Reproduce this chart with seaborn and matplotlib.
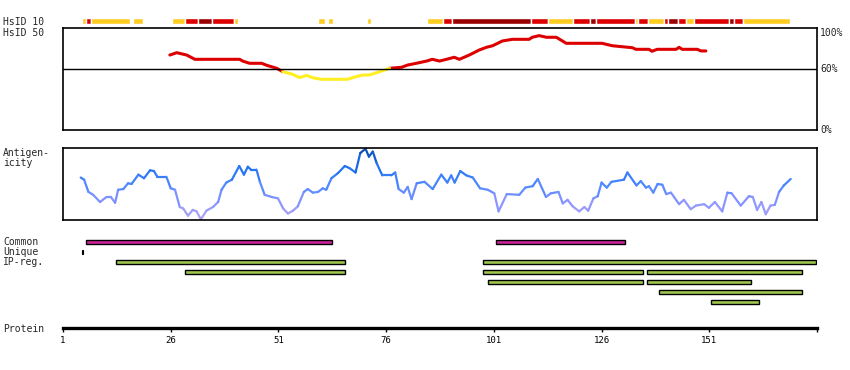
import numpy as np
import pandas as pd
import matplotlib
matplotlib.use("Agg")
import matplotlib.pyplot as plt
import seaborn as sns
from matplotlib.collections import LineCollection
from matplotlib.colors import LinearSegmentedColormap

sns.set_style("white")
plt.rcParams["font.family"] = ["DejaVu Sans Mono"]
plt.rcParams["font.size"] = 7

## protein length (residues)
protein_len = 176

## HsID 10 track: residue spans and identity level
hs10_start = [5.4, 6.3, 7.5, 17.2, 26.3, 29.3, 32.3, 35.5, 40.6, 60.3, 62.4,
              71.5, 85.4, 89.3, 91.4, 109.7, 113.6, 119.4, 123.4, 124.8, 133.8,
              134.5, 136.8, 140.5, 141.5, 143.8, 145.6, 147.5, 155.6, 156.7, 158.8]
hs10_end = [6.3, 7.5, 16.5, 19.5, 29.3, 32.3, 35.5, 40.6, 41.6, 61.7, 63.6,
            72.6, 89.3, 91.4, 109.7, 113.6, 119.4, 123.4, 124.8, 133.8, 134.5,
            136.8, 140.5, 141.5, 143.8, 145.6, 147.5, 155.6, 156.7, 158.8, 169.7]
hs10_level = ["low", "mid", "low", "low", "low", "mid", "high", "mid", "low", "low", "low",
              "low", "low", "mid", "high", "mid", "low", "mid", "high", "mid", "low",
              "mid", "low", "mid", "high", "mid", "low", "mid", "high", "mid", "low"]

## HsID 50 curve (percent identity)
hs50_pos = [25.8, 27.4, 29.7, 31.6, 42.0, 42.7, 44.3, 47.1, 48.3, 50.6, 52.0, 54.3,
            55.9, 57.5, 58.9, 61.0, 67.0, 68.2, 70.5, 72.1, 74.5, 76.8, 79.6, 81.0,
            83.0, 85.4, 86.7, 88.4, 90.0, 91.8, 93.0, 95.3, 97.6, 99.3, 100.7, 103.0,
            105.3, 109.2, 109.9, 111.5, 113.2, 115.5, 117.8, 126.1, 128.5, 133.1,
            134.0, 137.0, 137.7, 138.9, 143.3, 144.0, 144.7, 148.2, 149.1, 150.2]
hs50_pct = [73.5, 75.8, 73.5, 69.3, 69.3, 67.6, 65.4, 65.4, 63.4, 60.5, 57.2, 54.6,
            51.3, 53.6, 51.3, 49.7, 49.7, 51.3, 53.9, 53.9, 57.2, 60.5, 61.5, 63.7,
            65.4, 67.6, 69.3, 67.6, 69.3, 71.3, 69.3, 73.5, 78.4, 81.1, 82.6, 87.3,
            88.9, 88.9, 90.9, 92.5, 90.9, 90.9, 85.0, 85.0, 82.6, 80.7,
            79.1, 79.1, 77.2, 79.1, 79.1, 81.1, 79.1, 79.1, 77.5, 77.5]

## Antigenicity profile (0 = lowest, 1 = highest)
ag_pos = [5.1, 5.9, 6.9, 8.0, 9.6, 11.1, 12.1, 13.1, 13.8, 15.0, 16.1, 16.9, 18.5,
          19.8, 21.2, 22.1, 22.9, 25.0, 26.0, 27.0, 28.1, 28.9, 30.0, 31.1, 32.0,
          33.0, 34.3, 35.8, 37.0, 37.8, 38.9, 40.2, 41.9, 43.0, 43.9, 44.6, 45.9,
          46.7, 47.8, 49.4, 50.9, 52.1, 53.2, 54.4, 55.5, 56.9, 57.8, 59.0, 60.2,
          61.3, 62.1, 63.3, 64.8, 66.4, 67.5, 68.9, 70.0, 71.2, 72.0, 72.9, 73.8,
          75.1, 77.2, 78.1, 78.9, 80.1, 81.0, 81.9, 83.1, 84.9, 86.8, 88.8, 90.2,
          91.1, 91.9, 93.2, 94.6, 96.1, 97.8, 99.6, 101.1, 102.1, 104.0, 106.9,
          108.3, 110.0, 111.2, 113.1, 114.2, 116.0, 117.0, 118.1, 119.3, 120.8,
          122.0, 122.9, 124.1, 125.1, 126.0, 127.2, 128.3, 131.2, 132.0, 134.1,
          135.1, 136.3, 137.0, 138.0, 139.0, 140.1, 141.0, 142.1, 144.0, 145.1,
          146.7, 147.9, 149.8, 150.9, 152.3, 154.0, 155.2, 156.2, 158.3, 160.2,
          161.1, 162.1, 163.1, 164.1, 165.2, 166.2, 167.2, 168.3, 169.9]
ag_val = [0.59, 0.56, 0.39, 0.35, 0.25, 0.32, 0.32, 0.24, 0.42, 0.43, 0.51, 0.50, 0.63,
          0.58, 0.69, 0.68, 0.60, 0.60, 0.44, 0.42, 0.18, 0.16, 0.06, 0.14, 0.12,
          0.01, 0.13, 0.18, 0.25, 0.42, 0.52, 0.56, 0.75, 0.63, 0.74, 0.70, 0.70,
          0.53, 0.35, 0.32, 0.30, 0.16, 0.09, 0.13, 0.19, 0.39, 0.43, 0.38, 0.39,
          0.44, 0.42, 0.58, 0.65, 0.75, 0.72, 0.66, 0.93, 0.99, 0.88, 0.95, 0.79,
          0.62, 0.62, 0.66, 0.43, 0.38, 0.46, 0.29, 0.51, 0.53, 0.43, 0.63, 0.52,
          0.62, 0.52, 0.68, 0.62, 0.59, 0.44, 0.42, 0.37, 0.12, 0.36, 0.35,
          0.45, 0.47, 0.57, 0.32, 0.37, 0.39, 0.23, 0.28, 0.19, 0.12,
          0.18, 0.13, 0.30, 0.33, 0.52, 0.45, 0.53, 0.56, 0.66, 0.48,
          0.54, 0.45, 0.47, 0.38, 0.50, 0.49, 0.36, 0.38, 0.22, 0.28,
          0.15, 0.20, 0.22, 0.17, 0.25, 0.12, 0.38, 0.37, 0.20, 0.33,
          0.32, 0.14, 0.25, 0.08, 0.20, 0.21, 0.39, 0.48, 0.57]

## Feature bars
common_start = [6.3, 101.4]
common_end = [63.5, 131.5]
unique_pos = [5.5]
ip_start = [13.3, 98.4, 29.3, 98.4, 136.6, 99.6, 136.6, 139.4, 151.5]
ip_end = [66.5, 175.7, 66.5, 135.5, 172.6, 135.5, 160.6, 172.6, 162.6]
ip_row = [0, 0, 1, 1, 1, 2, 2, 3, 4]

ticks = [1, 26, 51, 76, 101, 126, 151]

W, H = 850, 370
fig = plt.figure(figsize=(W / 100, H / 100), dpi=100)


def px_axes(top, bottom):
    # axes placed by pixel rows, spanning the protein from x=63 to x=817
    return fig.add_axes([63 / W, (H - bottom) / H, (817 - 63) / W, (bottom - top) / H])


def clean(ax):
    ax.set_xlim(1, protein_len)
    ax.set_xticks([])
    ax.set_yticks([])
    ax.set_xlabel("")
    ax.set_ylabel("")


## HsID 10
ax10 = px_axes(18, 24)
level_col = {"low": "#ffcc22", "mid": "#dd0000", "high": "#990000"}
ax10.barh(0, np.array(hs10_end) - np.array(hs10_start), left=hs10_start, height=1,
          color=[level_col[l] for l in hs10_level], align="edge")
ax10.set_ylim(0, 1)
clean(ax10)
for s in ax10.spines.values():
    s.set_visible(False)

## HsID 50
ax50 = px_axes(28, 130)
rows = []
seg = 0
prev = None
for p, v in zip(hs50_pos, hs50_pct):
    lvl = "high" if v >= 60 else "low"
    if prev is not None and lvl != prev:
        rows.append((seg, prev, p, v))
        seg += 1
    rows.append((seg, lvl, p, v))
    prev = lvl
df50 = pd.DataFrame(rows, columns=["seg", "level", "pos", "pct"])
sns.lineplot(data=df50, x="pos", y="pct", hue="level", units="seg", estimator=None,
             sort=False, palette={"high": "#dd0000", "low": "#ffee22"},
             lw=2.2, legend=False, ax=ax50)
ax50.axhline(60, color="black", lw=1)
ax50.set_ylim(0, 100)
clean(ax50)
for s in ax50.spines.values():
    s.set_color("black")
    s.set_linewidth(1.2)
tr = ax50.get_yaxis_transform()
ax50.text(1.004, 100, "100%", transform=tr, va="top", ha="left")
ax50.text(1.004, 60, "60%", transform=tr, va="center", ha="left")
ax50.text(1.004, 0, "0%", transform=tr, va="center", ha="left")

## Antigenicity
axag = px_axes(148, 220)
cmap = LinearSegmentedColormap.from_list(
    "ag", ["#b4a6ee", "#8a95ff", "#4c88ff", "#1c6ff0", "#0a4aa8"])
pts = np.column_stack([ag_pos, ag_val])
segs = np.stack([pts[:-1], pts[1:]], axis=1)
mid = (np.array(ag_val[:-1]) + np.array(ag_val[1:])) / 2
lc = LineCollection(segs, colors=cmap(mid), linewidths=1.6, capstyle="round")
axag.add_collection(lc)
axag.set_ylim(0, 1)
clean(axag)
for s in axag.spines.values():
    s.set_color("black")
    s.set_linewidth(1.2)

## Feature bars
axb = px_axes(237, 307)
bh = 0.42
axb.barh([0] * len(common_start), np.array(common_end) - np.array(common_start),
         left=common_start, height=bh, color="#cc2299", edgecolor="black", lw=1)
axb.barh([1] * len(unique_pos), [0.25] * len(unique_pos), left=unique_pos,
         height=bh, color="black", edgecolor="black", lw=0.8)
axb.barh(np.array(ip_row) + 2, np.array(ip_end) - np.array(ip_start),
         left=ip_start, height=bh, color="#a0c850", edgecolor="black", lw=1)
axb.set_ylim(6.5, -0.5)
clean(axb)
for s in axb.spines.values():
    s.set_visible(False)

## Protein ruler
axp = px_axes(318, 328)
clean(axp)
for name, s in axp.spines.items():
    s.set_visible(name == "bottom")
axp.spines["bottom"].set_linewidth(2.4)
axp.spines["bottom"].set_color("black")
axp.set_xticks(ticks + [protein_len])
axp.set_xticklabels([str(t) for t in ticks] + [""])
axp.tick_params(axis="x", direction="out", length=3, width=1, pad=3,
                labelsize=6.5, bottom=True, colors="black")

## Left-hand labels
for label, y in [("HsID 10", 22), ("HsID 50", 33), ("Antigen-", 153), ("icity", 163),
                 ("Common", 242), ("Unique", 252), ("IP-reg.", 262), ("Protein", 329)]:
    fig.text(3 / W, 1 - y / H, label, va="center", ha="left")

fig.savefig("out.png", dpi=100)
